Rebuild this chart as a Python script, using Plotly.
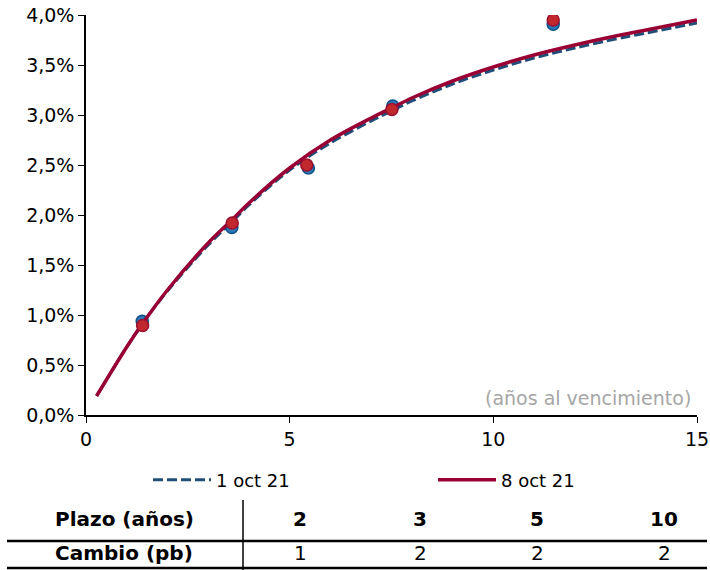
import plotly.graph_objects as go

# Curve (años al vencimiento, %)
curve_t = [0.26, 1, 1.38, 2, 3, 3.58, 4, 5, 6, 7, 7.5, 8, 9, 10, 11, 12, 13, 13.5, 14, 15]
curve_oct1 = [0.19, 0.68, 0.91, 1.24, 1.70, 1.93, 2.10, 2.45, 2.72, 2.94, 3.04, 3.14, 3.31, 3.45, 3.57, 3.67, 3.76, 3.80, 3.84, 3.92]
curve_oct8 = [0.19, 0.68, 0.91, 1.25, 1.72, 1.95, 2.12, 2.47, 2.75, 2.97, 3.07, 3.17, 3.34, 3.48, 3.60, 3.70, 3.79, 3.83, 3.87, 3.95]

# Observed points
pts_t_oct1 = [1.38, 3.58, 5.46, 7.53, 11.47]
pts_y_oct1 = [0.937, 1.875, 2.47, 3.09, 3.907]
pts_t_oct8 = [1.39, 3.59, 5.42, 7.51, 11.47]
pts_y_oct8 = [0.894, 1.92, 2.50, 3.056, 3.95]

# Table
table_header = "Plazo (años)"
table_row = "Cambio (pb)"
plazos = ["2", "3", "5", "10"]
cambios = ["1", "2", "2", "2"]

BLUE_LINE = "#1f4e79"
RED_LINE = "#990033"
FONT = "DejaVu Sans, Verdana, sans-serif"

fig = go.Figure()
fig.add_trace(go.Scatter(x=curve_t, y=curve_oct1, mode="lines", name="1 oct 21", line_shape="spline",
                         legend="legend",
                         line=dict(color=BLUE_LINE, width=3, dash="10px,4px")))
fig.add_trace(go.Scatter(x=pts_t_oct1, y=pts_y_oct1, mode="markers", showlegend=False,
                         marker=dict(size=12, color="#2a78b8", line=dict(color="#0d4f86", width=1.5))))
fig.add_trace(go.Scatter(x=curve_t, y=curve_oct8, mode="lines", name="8 oct 21", line_shape="spline",
                         legend="legend2",
                         line=dict(color=RED_LINE, width=3.5)))
fig.add_trace(go.Scatter(x=pts_t_oct8, y=pts_y_oct8, mode="markers", showlegend=False,
                         marker=dict(size=12, color="#c0282d", line=dict(color="#9b1030", width=1.5))))

L, R, T, B = 86, 13, 15, 155
W, H = 710, 570
pw = W - L - R
ph = H - T - B

def px_x(x):
    return (x - L) / pw

def px_y(y):
    return (H - B - y) / ph

annotations = [
    dict(text="(años al vencimiento)", x=1 - 4 / pw, y=px_y(398), xref="paper", yref="paper",
         xanchor="right", yanchor="middle", showarrow=False, font=dict(family=FONT, size=19, color="#a6a6a6")),
    dict(text="<b>" + table_header + "</b>", x=px_x(124), y=px_y(519), xref="paper", yref="paper",
         xanchor="center", yanchor="middle",
         showarrow=False, font=dict(family=FONT, size=20, color="black")),
    dict(text="<b>" + table_row + "</b>", x=px_x(124), y=px_y(553), xref="paper", yref="paper",
         xanchor="center", yanchor="middle",
         showarrow=False, font=dict(family=FONT, size=20, color="black")),
]
col_x = [300, 420, 537, 664]
for cx, p, c in zip(col_x, plazos, cambios):
    annotations.append(dict(text="<b>" + p + "</b>", x=px_x(cx), y=px_y(519), xref="paper", yref="paper",
                            xanchor="center", yanchor="middle",
                            showarrow=False, font=dict(family=FONT, size=20, color="black")))
    annotations.append(dict(text=c, x=px_x(cx), y=px_y(553), xref="paper", yref="paper",
                            xanchor="center", yanchor="middle",
                            showarrow=False, font=dict(family=FONT, size=20, color="black")))

shapes = [
    dict(type="line", xref="paper", yref="paper", x0=px_x(7), x1=px_x(707), y0=px_y(541), y1=px_y(541),
         line=dict(color="black", width=2.5)),
    dict(type="line", xref="paper", yref="paper", x0=px_x(7), x1=px_x(707), y0=px_y(568), y1=px_y(568),
         line=dict(color="black", width=2.5)),
    dict(type="line", xref="paper", yref="paper", x0=px_x(243), x1=px_x(243), y0=px_y(500), y1=px_y(572),
         line=dict(color="black", width=1.5)),
]

legend_common = dict(orientation="h", yanchor="middle", xanchor="left", itemwidth=58,
                     font=dict(family=FONT, size=18, color="black"), bgcolor="rgba(0,0,0,0)")

fig.update_layout(
    width=W, height=H,
    margin=dict(l=L, r=R, t=T, b=B, autoexpand=False),
    paper_bgcolor="white", plot_bgcolor="white",
    separators=",.",
    font=dict(family=FONT, size=19, color="black"),
    showlegend=True,
    legend=dict(x=px_x(148), y=px_y(480), **legend_common),
    legend2=dict(x=px_x(433), y=px_y(480), **legend_common),
    xaxis=dict(range=[0, 15], tickvals=[0, 5, 10, 15], showgrid=False, zeroline=False, automargin=False,
               showline=True, linecolor="black", linewidth=1.5, ticks="outside", ticklen=6,
               tickcolor="black", tickfont=dict(family=FONT, size=19)),
    yaxis=dict(range=[0, 4], dtick=0.5, tickformat=".1f", ticksuffix="%", showgrid=False, zeroline=False,
               automargin=False,
               showline=True, linecolor="black", linewidth=1.5, ticks="outside", ticklen=6,
               tickcolor="black", tickfont=dict(family=FONT, size=19)),
    annotations=annotations,
    shapes=shapes,
)

fig.write_html("out.html", config={"displayModeBar": False},
               post_script="document.body.style.margin='0px';")
